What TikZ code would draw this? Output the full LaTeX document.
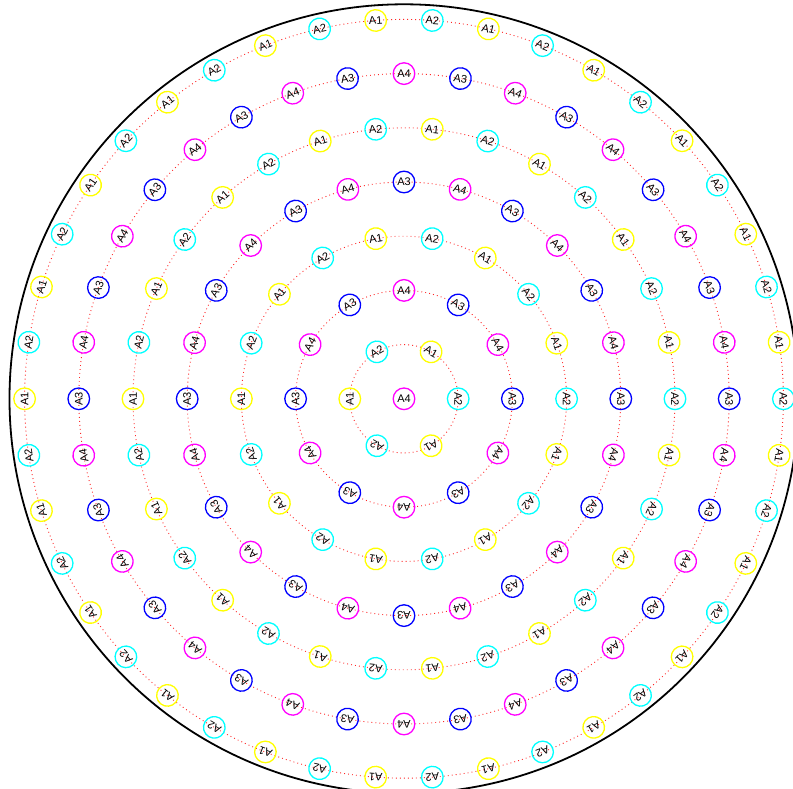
\documentclass[tikz,border=0pt]{standalone}
\usepackage{fontspec}
\setmainfont{Liberation Sans}
\definecolor{cyA}{rgb}{0,1,1}
\definecolor{yeA}{rgb}{1,1,0}
\definecolor{blA}{rgb}{0,0,1}
\definecolor{maA}{rgb}{1,0,1}
\tikzset{
  ndbase/.style={circle, draw, line width=1.3pt, minimum size=21.6pt, inner sep=0pt, text=black, font=\fontsize{11}{13}\selectfont},
  ndA1/.style={ndbase, draw=yeA},
  ndA2/.style={ndbase, draw=cyA},
  ndA3/.style={ndbase, draw=blA},
  ndA4/.style={ndbase, draw=maA},
  ringline/.style={red!85, line width=0.9pt, dash pattern=on 0.9pt off 3.1pt},
  outerring/.style={black, line width=1.8pt}
}
\begin{document}
\begin{tikzpicture}
\useasboundingbox (-404pt,-390.2pt) rectangle (389pt,398.8pt);
\clip (-404pt,-390.2pt) rectangle (389pt,398.8pt);
\coordinate (O) at (0,0);
\draw[outerring] (O) circle (394.5pt);
\foreach \n in {1,...,7}{
  \pgfmathsetmacro\rr{54.2*\n}
  \draw[ringline] (O) circle (\rr pt);
}
\node[ndA4] (c0) at (O) {A4};
\foreach \n in {1,...,7}{
  \pgfmathsetmacro\rr{54.2*\n}
  \pgfmathtruncatemacro\m{6*\n-1}
  \foreach \k in {0,...,\m}{
    \pgfmathsetmacro\a{\k*360/(6*\n)}
    \pgfmathtruncatemacro\idx{2*(1-mod(\n,2))+mod(\k,2)}
    \ifcase\idx \def\lab{A2}\or \def\lab{A1}\or \def\lab{A3}\or \def\lab{A4}\fi
    \node[nd\lab, rotate=\a-90] (r\n-\k) at (\a:\rr pt) {\lab};
  }
}
\end{tikzpicture}
\end{document}
